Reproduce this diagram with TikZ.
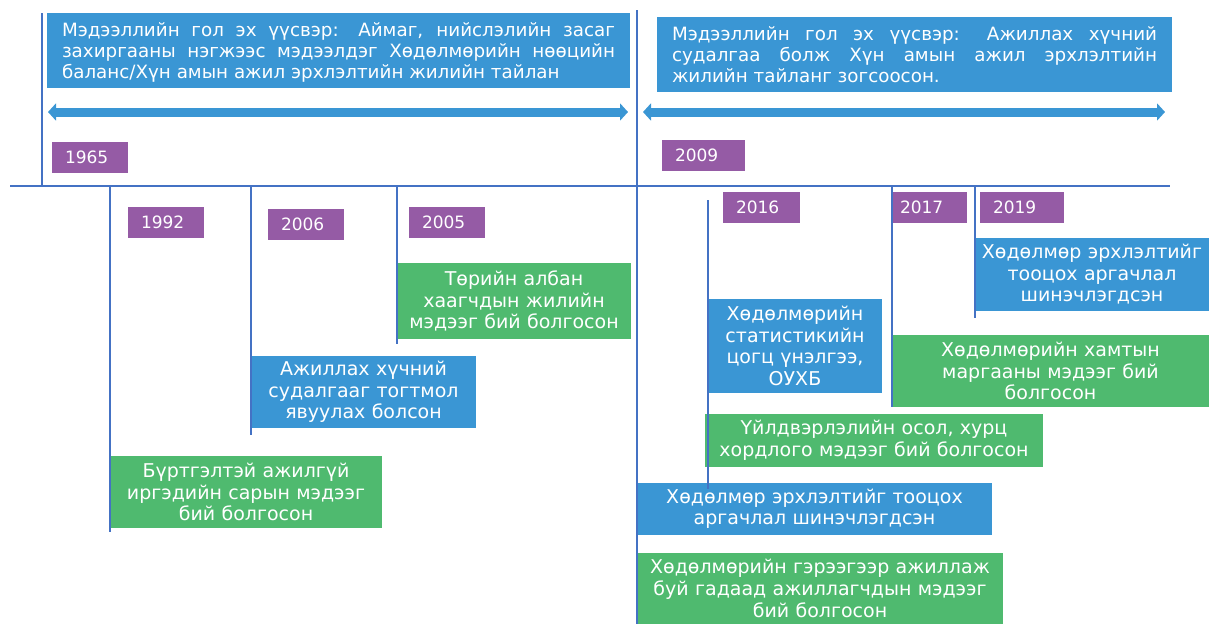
\documentclass[tikz,border=0pt]{standalone}
\usepackage{fontspec}
\setmainfont{DejaVu Sans}
\usetikzlibrary{arrows.meta,positioning}
\definecolor{boxblue}{HTML}{3A96D4}
\definecolor{boxgreen}{HTML}{4FBA6F}
\definecolor{yearpurple}{HTML}{955BA5}
\definecolor{axisblue}{HTML}{4472C4}

\begin{document}
\begin{tikzpicture}[x=1pt,y=-1pt,
    every node/.style={inner sep=0pt,outer sep=0pt,anchor=north west,text=white},
    srcbox/.style={fill=boxblue,align=justify,inner xsep=15pt,font=\fontsize{18.3}{21}\selectfont},
    yearbox/.style={fill=yearpurple,align=left,inner xsep=13pt,text width=50pt,
                    minimum height=31pt,font=\fontsize{17}{18}\selectfont},
    bluebox/.style={fill=boxblue,align=center,font=\fontsize{19}{21.5}\selectfont},
    greenbox/.style={fill=boxgreen,align=center,font=\fontsize{19}{21.5}\selectfont},
    tickline/.style={draw=axisblue,line width=1.4pt},
    spanarrow/.style={draw=boxblue,line width=9pt,
                      {Triangle[length=8pt,width=17pt]}-{Triangle[length=8pt,width=17pt]}}]

  \useasboundingbox (0,0) rectangle (1209,624);

  % sources of the data
  \node[srcbox,text width=553pt,minimum height=75pt] (src1965) at (47,13)
    {\rule{0pt}{18pt}Мэдээллийн гол эх үүсвэр: Аймаг, нийслэлийн засаг\linebreak
     захиргааны нэгжээс мэдээлдэг Хөдөлмөрийн нөөцийн\linebreak
     баланс/Хүн амын ажил эрхлэлтийн жилийн тайлан};
  \node[srcbox,text width=485pt,minimum height=75pt] (src2009) at (657,17)
    {Мэдээллийн гол эх үүсвэр: Ажиллах хүчний\linebreak
     судалгаа болж Хүн амын ажил эрхлэлтийн\linebreak
     жилийн тайланг зогсоосон.};

  \coordinate (sp1L) at (48,112);
  \coordinate (sp1R) at (628,112);
  \coordinate (sp2L) at (643,112);
  \coordinate (sp2R) at (1165,112);
  \draw[spanarrow] (sp1L) -- (sp1R);
  \draw[spanarrow] (sp2L) -- (sp2R);

  % years
  \node[yearbox]                 (y1965) at (52,142)  {1965};
  \node[yearbox,text width=57pt] (y2009) at (662,140) {2009};
  \node[yearbox]                 (y1992) at (128,207) {1992};
  \node[yearbox]                 (y2006) at (268,209) {2006};
  \node[yearbox]                 (y2005) at (409,207) {2005};
  \node[yearbox,text width=51pt] (y2016) at (723,192) {2016};
  \node[yearbox,inner xsep=8pt,text width=59pt] (y2017) at (892,192) {2017};
  \node[yearbox,text width=58pt] (y2019) at (980,192) {2019};

  % events
  \node[greenbox,text width=234pt,minimum height=76pt] (g2005) at (397,263)
    {Төрийн албан\\хаагчдын жилийн\\мэдээг бий болгосон};
  \node[bluebox,text width=225pt,minimum height=72pt] (b2006) at (251,356)
    {Ажиллах хүчний\\судалгааг тогтмол\\явуулах болсон};
  \node[greenbox,text width=272pt,minimum height=72pt] (g1992) at (110,456)
    {Бүртгэлтэй ажилгүй\\иргэдийн сарын мэдээг\\бий болгосон};
  \node[bluebox,text width=234pt,minimum height=73pt] (b2019) at (975,238)
    {Хөдөлмөр эрхлэлтийг\\тооцох аргачлал\\шинэчлэгдсэн};
  \node[greenbox,text width=317pt,minimum height=72pt] (g2017) at (892,335)
    {Хөдөлмөрийн хамтын\\маргааны мэдээг бий\\болгосон};
  \node[bluebox,text width=174pt,minimum height=94pt] (b2016) at (708,299)
    {Хөдөлмөрийн\\статистикийн\\цогц үнэлгээ,\\ОУХБ};
  \node[greenbox,text width=338pt,minimum height=53pt,font=\fontsize{19}{22}\selectfont] (g2016) at (705,414)
    {Үйлдвэрлэлийн осол, хурц\\хордлого мэдээг бий болгосон};
  \node[bluebox,text width=355pt,minimum height=52pt,font=\fontsize{19}{21}\selectfont] (b2009) at (637,483)
    {Хөдөлмөр эрхлэлтийг тооцох\\аргачлал шинэчлэгдсэн};
  \node[greenbox,text width=366pt,minimum height=71pt,font=\fontsize{19}{22}\selectfont] (g2009) at (637,553)
    {Хөдөлмөрийн гэрээгээр ажиллаж\\буй гадаад ажиллагчдын мэдээг\\бий болгосон};

  % time axis and ticks
  \coordinate (axisL) at (10,186);
  \coordinate (axisR) at (1170,186);
  \coordinate (top1965) at (42,13);
  \coordinate (a1965) at (42,186);
  \coordinate (a1992) at (110,186);
  \coordinate (a2006) at (251,186);
  \coordinate (a2005) at (397,186);
  \coordinate (a2017) at (892,186);
  \coordinate (a2019) at (975,186);
  \coordinate (top2009) at (637,10);
  \coordinate (bot2009) at (637,624);
  \coordinate (s2016) at (708,200);
  \coordinate (e2016) at (708,489);

  \draw[tickline] (axisL) -- (axisR);
  \draw[tickline] (top1965) -- (a1965);
  \draw[tickline] (top2009) -- (bot2009);
  \draw[tickline] (a1992) -- ([yshift=-4pt]g1992.south west);
  \draw[tickline] (a2006) -- ([yshift=-7pt]b2006.south west);
  \draw[tickline] (a2005) -- ([yshift=-5pt]g2005.south west);
  \draw[tickline] (s2016) -- (e2016);
  \draw[tickline] (a2017) -- (g2017.south west);
  \draw[tickline] (a2019) -- ([yshift=-7pt]b2019.south west);
\end{tikzpicture}
\end{document}
